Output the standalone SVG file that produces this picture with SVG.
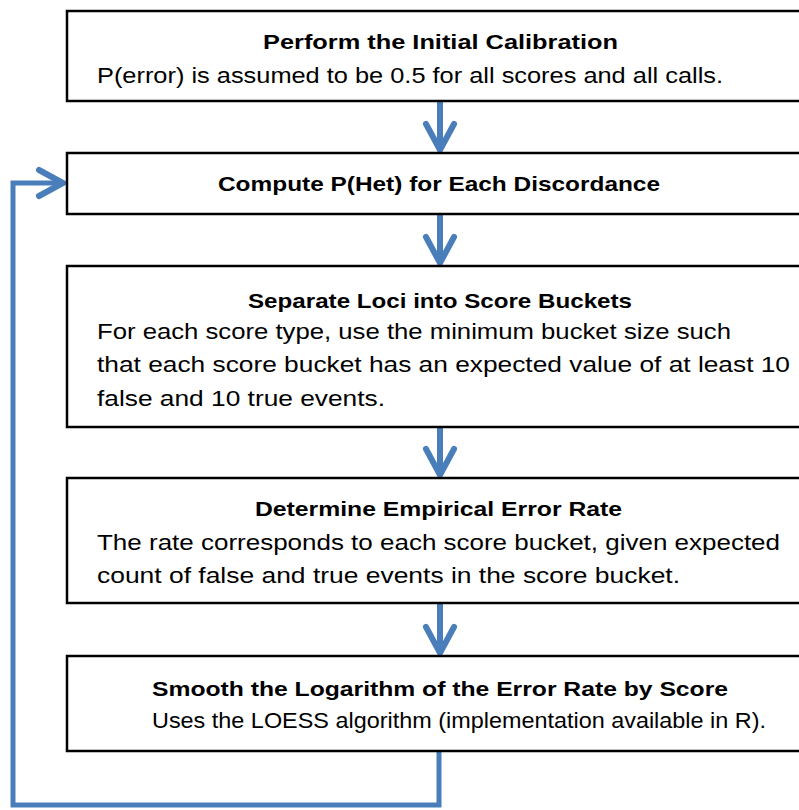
<svg xmlns="http://www.w3.org/2000/svg" width="799" height="810" viewBox="0 0 799 810">
<style>
.box{fill:#fff;stroke:#000;stroke-width:2.5}
.t{font-family:"Liberation Sans",Arial,sans-serif;font-size:21px;font-weight:bold;fill:#000}
.b{font-family:"Liberation Sans",Arial,sans-serif;font-size:22px;fill:#000}
.c{fill:none;stroke:#4a7ebb;stroke-width:6;stroke-linecap:round}
.h{fill:none;stroke:#4a7ebb;stroke-width:6;stroke-linecap:round;stroke-linejoin:miter}
</style>
<rect width="799" height="810" fill="#fff"/>
<g id="connectors">
<path class="c" d="M440,101 V148"/><path class="h" d="M426,124 L440,150 L454,124"/>
<path class="c" d="M440,214 V261"/><path class="h" d="M426,237 L440,263 L454,237"/>
<path class="c" d="M440,427 V473"/><path class="h" d="M426,449 L440,475 L454,449"/>
<path class="c" d="M440,603 V651"/><path class="h" d="M426,627 L440,653 L454,627"/>
<path d="M439,752 V805 H13 V183 H60" fill="none" stroke="#4a7ebb" stroke-width="5"/>
<path class="h" d="M39,170 L63,183 L39,196"/>
</g>
<g id="n1">
<rect class="box" x="67" y="11" width="740" height="90"/>
<text class="t" x="263" y="49" textLength="355" lengthAdjust="spacingAndGlyphs">Perform the Initial Calibration</text>
<text class="b" x="97" y="83" textLength="626" lengthAdjust="spacingAndGlyphs">P(error) is assumed to be 0.5 for all scores and all calls.</text>
</g>
<g id="n2">
<rect class="box" x="67" y="153" width="740" height="61"/>
<text class="t" x="218" y="191" textLength="442" lengthAdjust="spacingAndGlyphs">Compute P(Het) for Each Discordance</text>
</g>
<g id="n3">
<rect class="box" x="67" y="266" width="740" height="161"/>
<text class="t" x="248" y="308" textLength="384" lengthAdjust="spacingAndGlyphs">Separate Loci into Score Buckets</text>
<text class="b" x="97" y="339" textLength="634" lengthAdjust="spacingAndGlyphs">For each score type, use the minimum bucket size such</text>
<text class="b" x="97" y="372" textLength="693" lengthAdjust="spacingAndGlyphs">that each score bucket has an expected value of at least 10</text>
<text class="b" x="97" y="406" textLength="288" lengthAdjust="spacingAndGlyphs">false and 10 true events.</text>
</g>
<g id="n4">
<rect class="box" x="67" y="478" width="740" height="125"/>
<text class="t" x="255" y="516" textLength="367" lengthAdjust="spacingAndGlyphs">Determine Empirical Error Rate</text>
<text class="b" x="97" y="550" textLength="683" lengthAdjust="spacingAndGlyphs">The rate corresponds to each score bucket, given expected</text>
<text class="b" x="97" y="583" textLength="583" lengthAdjust="spacingAndGlyphs">count of false and true events in the score bucket.</text>
</g>
<g id="n5">
<rect class="box" x="67" y="656" width="740" height="95"/>
<text class="t" x="152" y="696" textLength="576" lengthAdjust="spacingAndGlyphs">Smooth the Logarithm of the Error Rate by Score</text>
<text class="b" x="152" y="728" textLength="614" lengthAdjust="spacingAndGlyphs">Uses the LOESS algorithm (implementation available in R).</text>
</g>
</svg>
